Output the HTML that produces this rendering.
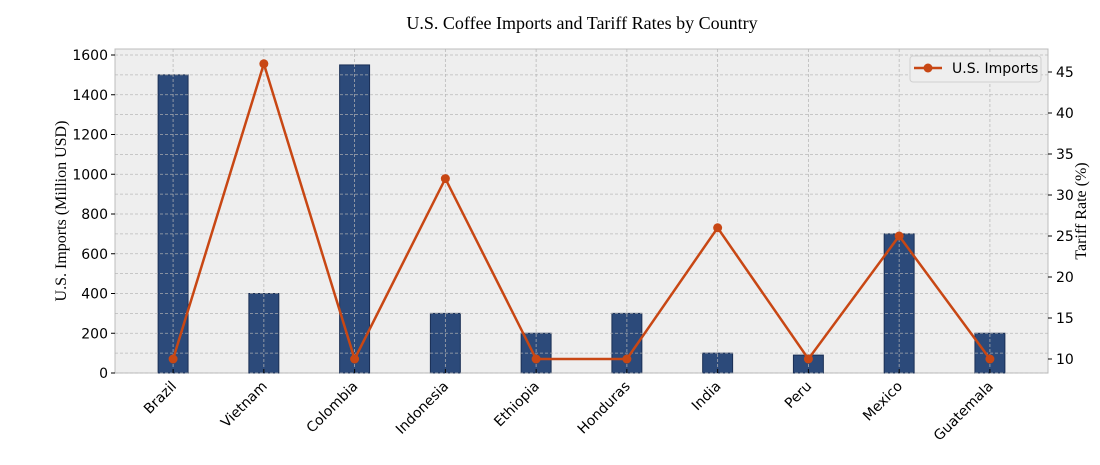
<!DOCTYPE html>
<html><head><meta charset="utf-8"><style>
body{margin:0;background:#fff;}
svg{display:block;font-family:"DejaVu Sans","Liberation Sans",sans-serif;}
</style></head><body>
<svg id="chart" width="1100" height="465">
<text x="582" y="29" text-anchor="middle" font-family="Liberation Serif, serif" font-size="18">U.S. Coffee Imports and Tariff Rates by Country</text>
<rect x="115" y="49" width="933" height="324" fill="#eeeeee" stroke="#bcbcbc"/>
<g id="bars"></g><g id="grid"></g><g id="line"></g><g id="axes"></g>
<text transform="translate(66,211) rotate(-90)" text-anchor="middle" font-family="Liberation Serif, serif" font-size="16">U.S. Imports (Million USD)</text>
<text transform="translate(1086,211) rotate(-90)" text-anchor="middle" font-family="Liberation Serif, serif" font-size="16">Tariff Rate (%)</text>
<g>
<rect x="910" y="56" width="131" height="26" rx="3" fill="#eeeeee" stroke="#d0d0d0"/>
<line x1="914" y1="68" x2="942" y2="68" stroke="#c84714" stroke-width="2.5"/>
<circle cx="928" cy="68" r="4.5" fill="#c84714"/>
<text x="952" y="73" font-size="14">U.S. Imports</text>
</g>
</svg>
<script>
const categories=["Brazil","Vietnam","Colombia","Indonesia","Ethiopia","Honduras","India","Peru","Mexico","Guatemala"];
const imports=[1500,400,1550,300,200,300,100,90,700,200];
const tariffs=[10,46,10,32,10,10,26,10,25,10];
const leftTicks=[0,200,400,600,800,1000,1200,1400,1600];
const rightTicks=[10,15,20,25,30,35,40,45];
const NS="http://www.w3.org/2000/svg";
const L=115,R=1048,T=49,B=373;
const x=i=>L+(i+0.64)*(R-L)/(9+1.28);
const yL=v=>373-v*318/1600;
const yR=v=>359-(v-10)*41/5;
function mk(t,a,p){const e=document.createElementNS(NS,t);for(const k in a)e.setAttribute(k,a[k]);document.getElementById(p).appendChild(e);return e;}
for(let v=0;v<=1600;v+=100){const g=mk("line",{x1:L,x2:R,y1:yL(v),y2:yL(v),stroke:"#b4b4b4","stroke-dasharray":"3,2","stroke-width":0.8,opacity:0.9},"grid");

}
categories.forEach((c,i)=>{const g=mk("line",{x1:x(i),x2:x(i),y1:T,y2:B,stroke:"#b4b4b4","stroke-dasharray":"3,2","stroke-width":0.8,opacity:0.9},"grid");

});
const bw=(R-L)/(10.28)*0.33;
categories.forEach((c,i)=>{const b=mk("rect",{x:x(i)-bw/2,y:yL(imports[i]),width:bw,height:B-yL(imports[i]),fill:"#2c4a7a",stroke:"#1a2f55","stroke-width":1},"bars");


const t=mk("text",{transform:`translate(${x(i)+4},${387}) rotate(-45)`,"text-anchor":"end","font-size":14},"axes");t.textContent=c;


mk("line",{x1:x(i),x2:x(i),y1:B,y2:B-4,stroke:"#000"},"axes");});
const pl=mk("polyline",{points:tariffs.map((v,i)=>x(i)+","+yR(v)).join(" "),fill:"none",stroke:"#c84714","stroke-width":2.5},"line");


tariffs.forEach((v,i)=>{const p=mk("circle",{cx:x(i),cy:yR(v),r:4.5,fill:"#c84714"},"line");

});
leftTicks.forEach(v=>{mk("line",{x1:L-4,x2:L,y1:yL(v),y2:yL(v),stroke:"#000"},"axes");
const t=mk("text",{x:L-7,y:yL(v)+5,"text-anchor":"end","font-size":14},"axes");t.textContent=v;

});
rightTicks.forEach(v=>{mk("line",{x1:R,x2:R+4,y1:yR(v),y2:yR(v),stroke:"#000"},"axes");
const t=mk("text",{x:R+8,y:yR(v)+5,"font-size":14},"axes");t.textContent=v;

});
</script>
</body></html>
